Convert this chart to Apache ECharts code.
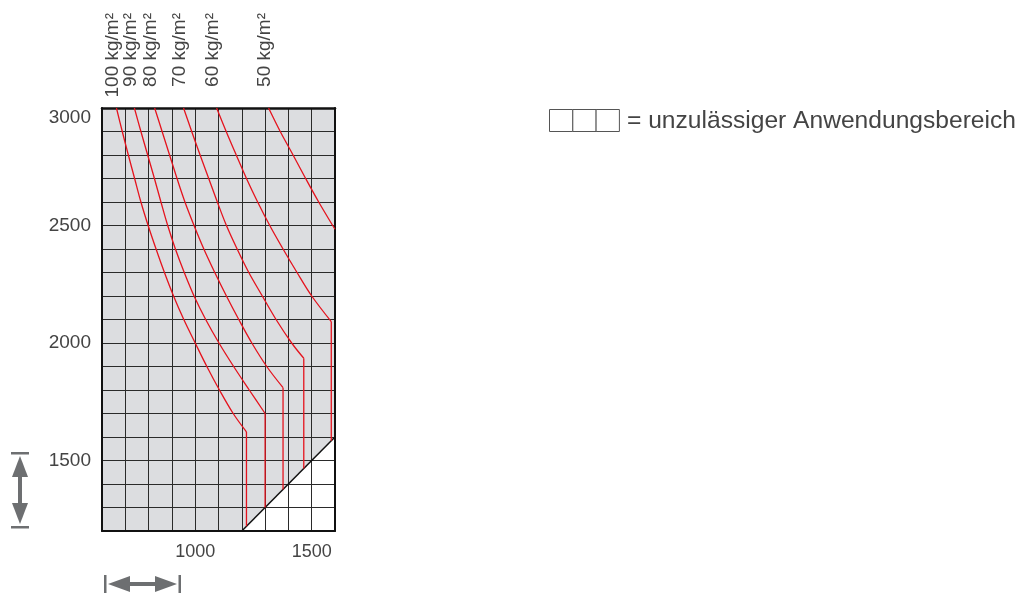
<!DOCTYPE html>
<html><head><meta charset="utf-8">
<script src="https://cdn.jsdelivr.net/npm/echarts@6/dist/echarts.min.js"></script>
<style>html,body{margin:0;padding:0;background:#fff}#c{width:1018px;height:595px}</style>
</head><body><div id="c"></div><script>
// ---- data ----
const xTickLabels = [1000, 1500];
const yTickLabels = [1500, 2000, 2500, 3000];
const curveNames = ['100 kg/m²', '90 kg/m²', '80 kg/m²', '70 kg/m²', '60 kg/m²', '50 kg/m²'];
const curve100 = [[662,3000],[687,2900],[713,2800],[740,2700],[767,2600],[798,2500],[832,2400],[868,2300],[907,2200],[951,2100],[1000,2000],[1050,1900],[1104,1800],[1163,1700],[1220,1622],[1220,1220]];
const curve90  = [[739,3000],[767,2900],[796,2800],[825,2700],[853,2600],[882,2500],[915,2400],[953,2300],[995,2200],[1045,2100],[1102,2000],[1165,1900],[1232,1800],[1300,1700],[1300,1300]];
const curve80  = [[826,3000],[858,2900],[890,2800],[922,2700],[956,2600],[995,2500],[1037,2400],[1084,2300],[1134,2200],[1187,2100],[1243,2000],[1307,1900],[1377,1810],[1377,1377]];
const curve70  = [[950,3000],[985,2900],[1021,2800],[1058,2700],[1095,2600],[1134,2500],[1180,2400],[1230,2300],[1288,2200],[1347,2100],[1414,2000],[1466,1935],[1466,1466]];
const curve60  = [[1092,3000],[1133,2900],[1176,2800],[1220,2700],[1268,2600],[1320,2500],[1377,2400],[1437,2300],[1500,2200],[1584,2091],[1584,1584]];
const curve50  = [[1315,3000],[1365,2900],[1420,2800],[1474,2700],[1530,2600],[1590,2500],[1600,2484]];
const allowedBoundary = [[600,1200],[1200,1200],[1600,1600]];
const limitLine = [[1200,1200],[1600,1600]];
const legendText = '= unzulässiger Anwendungsbereich';
// ----------------

const curves = [curve100, curve90, curve80, curve70, curve60, curve50];
const FONT = '"Liberation Sans", Arial, sans-serif';
const TXT = '#444';
const GRIDC = '#2a2a2a';
const RED = '#e5131e';

const chart = echarts.init(document.getElementById('c'), null, {renderer: 'canvas'});

const series = [{
  type: 'line', data: allowedBoundary, showSymbol: false, silent: true,
  lineStyle: {width: 0}, areaStyle: {color: '#dcdde0', opacity: 1, origin: 'end'}, z: 1
}, {
  type: 'line', data: limitLine, showSymbol: false, silent: true,
  lineStyle: {color: '#111', width: 1.5}, z: 4
}];
curves.forEach((c, i) => {
  const last = c[c.length - 1];
  const prev = c[c.length - 2];
  const hasDrop = last[0] === prev[0];
  const curved = hasDrop ? c.slice(0, -1) : c;
  series.push({
    name: curveNames[i], type: 'line', data: curved, showSymbol: false, silent: true,
    smooth: 0.35, lineStyle: {color: RED, width: 1.3}, z: 5
  });
  if (hasDrop) {
    series.push({
      name: curveNames[i] + ' drop', type: 'line', data: c.slice(-2), showSymbol: false, silent: true,
      lineStyle: {color: RED, width: 1.3}, z: 5
    });
  }
});

chart.setOption({
  animation: false,
  grid: {left: 102, right: 683, top: 108, bottom: 64},
  xAxis: [{
    type: 'value', min: 600, max: 1600, interval: 100, position: 'bottom', z: 3,
    axisLine: {show: true, lineStyle: {color: '#111', width: 2}},
    axisTick: {show: false},
    axisLabel: {customValues: xTickLabels, fontSize: 18, color: TXT, fontFamily: FONT, margin: 12,
      formatter: v => String(v)},
    splitLine: {show: true, lineStyle: {color: GRIDC, width: 1}}
  }, {
    type: 'value', min: 600, max: 1600, position: 'top', z: 3,
    axisLine: {show: true, lineStyle: {color: '#111', width: 2.5}},
    axisTick: {show: false}, axisLabel: {show: false}, splitLine: {show: false}
  }],
  yAxis: [{
    type: 'value', min: 1200, max: 3000, interval: 100, position: 'left', z: 3,
    axisLine: {show: true, lineStyle: {color: '#111', width: 2}},
    axisTick: {show: false},
    axisLabel: {customValues: yTickLabels, fontSize: 19, color: TXT, fontFamily: FONT, margin: 11,
      formatter: v => v === 3000 ? '{t|3000}' : String(v),
      rich: {t: {fontSize: 19, color: TXT, fontFamily: FONT, padding: [19, 0, 0, 0]}}},
    splitLine: {show: true, lineStyle: {color: GRIDC, width: 1}}
  }, {
    type: 'value', min: 1200, max: 3000, position: 'right', z: 3,
    axisLine: {show: true, lineStyle: {color: '#111', width: 2}},
    axisTick: {show: false}, axisLabel: {show: false}, splitLine: {show: false}
  }],
  series: series
});

const graphics = [];
curves.forEach((c, i) => {
  const p = chart.convertToPixel({xAxisIndex: 0, yAxisIndex: 0}, c[0]);
  graphics.push({
    type: 'text', x: p[0] - 4, y: 13, rotation: Math.PI / 2, silent: true,
    style: {text: curveNames[i], fontSize: 19, fontFamily: FONT, fill: TXT,
      align: 'right', verticalAlign: 'middle', textAlign: 'right', textVerticalAlign: 'middle'}
  });
});
// legend swatch (three cells)
for (let k = 0; k < 3; k++) {
  graphics.push({type: 'rect', shape: {x: 549.5 + k * 23.3, y: 109.5, width: 23.3, height: 22},
    style: {fill: '#fff', stroke: '#555', lineWidth: 1}, silent: true});
}
graphics.push({type: 'text', x: 627, y: 121, silent: true,
  style: {text: legendText, fontSize: 24.6, fontFamily: FONT, fill: TXT,
    align: 'left', verticalAlign: 'middle', textAlign: 'left', textVerticalAlign: 'middle'}});
// horizontal double arrow
const AC = '#6d6f71';
graphics.push({type: 'rect', shape: {x: 104, y: 575, width: 2.5, height: 18}, style: {fill: AC}, silent: true});
graphics.push({type: 'rect', shape: {x: 178.5, y: 575, width: 2.5, height: 18}, style: {fill: AC}, silent: true});
graphics.push({type: 'polygon', shape: {points: [[108,584],[130,576],[130,592]]}, style: {fill: AC}, silent: true});
graphics.push({type: 'polygon', shape: {points: [[177,584],[155,576],[155,592]]}, style: {fill: AC}, silent: true});
graphics.push({type: 'rect', shape: {x: 129, y: 582, width: 27, height: 4}, style: {fill: AC}, silent: true});
// vertical double arrow
graphics.push({type: 'rect', shape: {x: 11, y: 452, width: 18, height: 2.5}, style: {fill: AC}, silent: true});
graphics.push({type: 'rect', shape: {x: 11, y: 526, width: 18, height: 2.5}, style: {fill: AC}, silent: true});
graphics.push({type: 'polygon', shape: {points: [[20,456],[12,477],[28,477]]}, style: {fill: AC}, silent: true});
graphics.push({type: 'polygon', shape: {points: [[20,524],[12,503],[28,503]]}, style: {fill: AC}, silent: true});
graphics.push({type: 'rect', shape: {x: 18, y: 476, width: 4, height: 28}, style: {fill: AC}, silent: true});

chart.setOption({graphic: graphics});
</script></body></html>
